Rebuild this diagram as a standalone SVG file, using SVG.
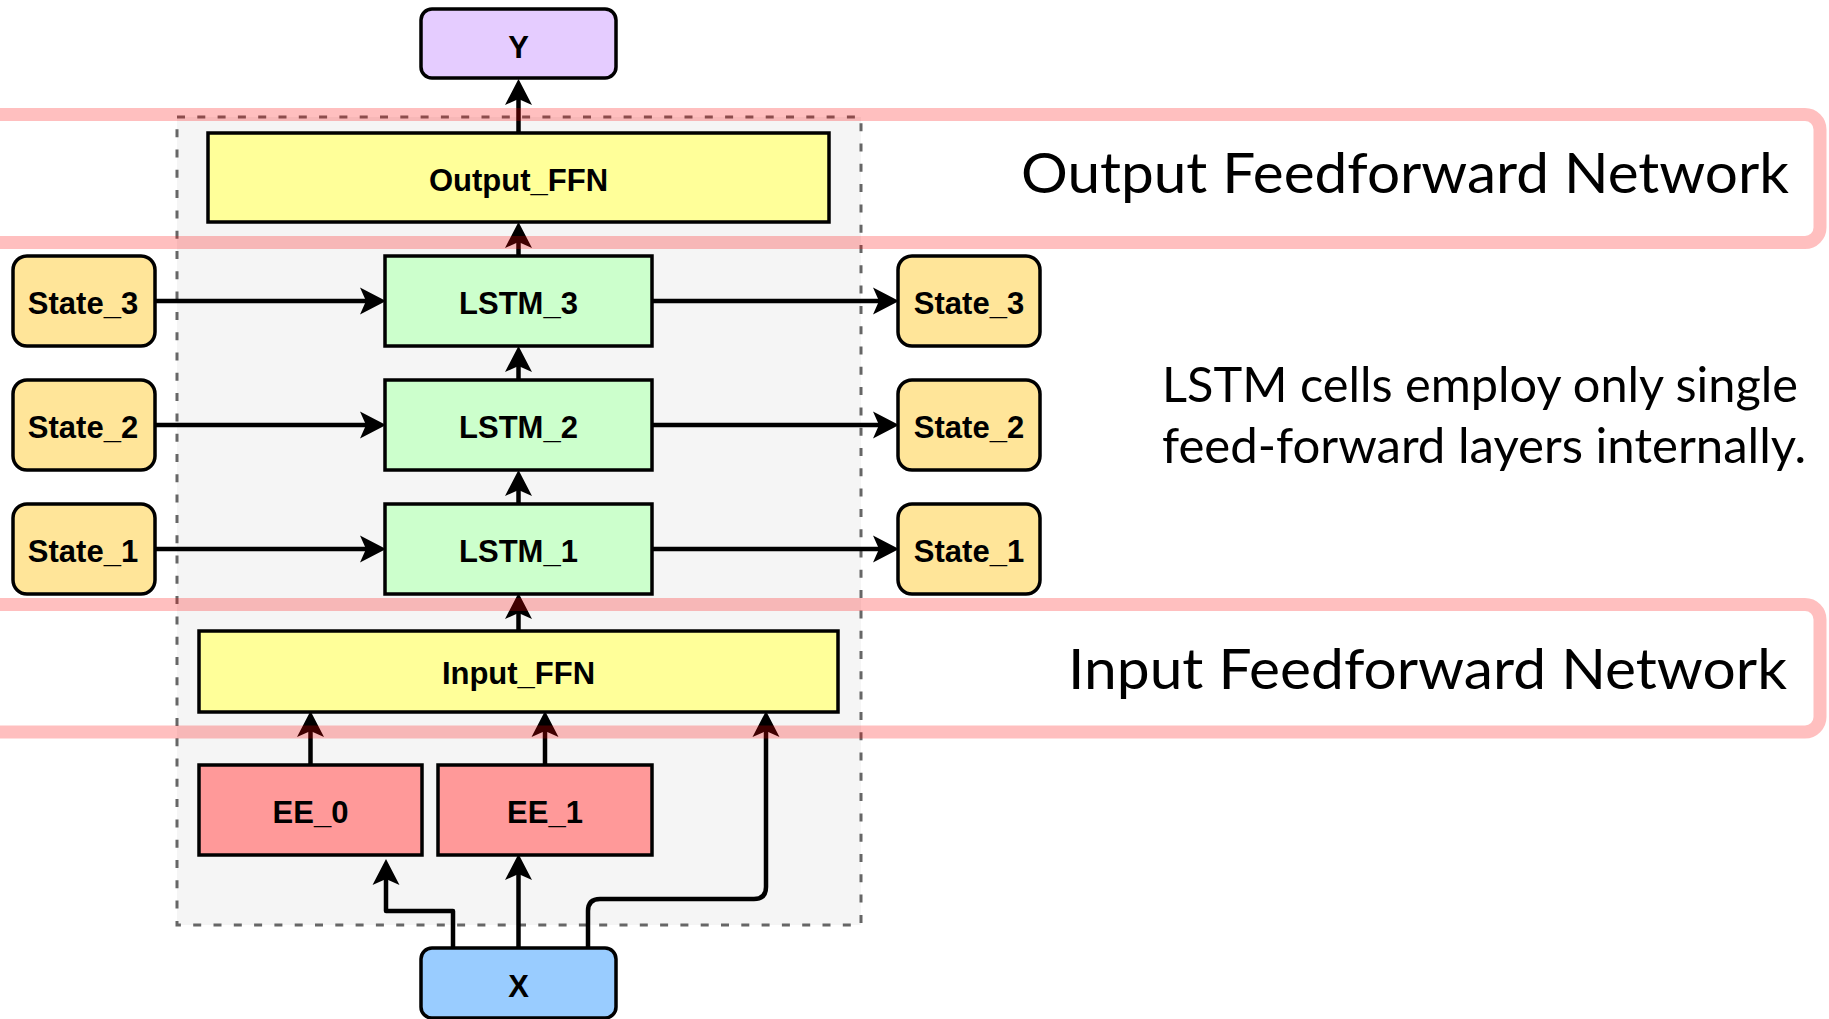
<svg xmlns="http://www.w3.org/2000/svg" width="1829" height="1019" viewBox="0 0 1829 1019">
  <style>
    .node { stroke: #000; stroke-width: 3.5; }
    .lbl { font-family: "Liberation Sans", Arial, sans-serif; font-weight: bold; font-size: 31px; text-anchor: middle; fill: #000; }
    .note { font-family: Lato, "Open Sans", sans-serif; fill: #000; }
    .edge { fill: none; stroke: #000; stroke-width: 4.5; stroke-linejoin: round; }
    .band { fill: none; stroke: #FF0000; stroke-opacity: 0.25; stroke-width: 13; }
    .y { fill: #E5CCFF; } .ffn { fill: #FFFF99; } .lstm { fill: #CCFFCC; }
    .state { fill: #FFE599; } .ee { fill: #FF9999; } .x { fill: #99CCFF; }
  </style>
  <defs>
    <marker id="arrow" markerUnits="userSpaceOnUse" markerWidth="28" markerHeight="30" viewBox="0 -14 28 28" refX="6" refY="0" orient="auto">
      <path d="M0,-13.5 L26,0 L0,13.5 L6,0 Z" fill="#000"/>
    </marker>
  </defs>

  <rect width="1829" height="1019" fill="#fff"/>

  <!-- model container -->
  <g id="container">
    <rect x="177" y="117" width="684" height="808" fill="#F5F5F5" stroke="#666" stroke-width="3" stroke-dasharray="8 12.3"/>
  </g>

  <!-- connectors -->
  <g id="connectors">
    <path class="edge" d="M518.5,133 V99" marker-end="url(#arrow)"/>
    <path class="edge" d="M518.5,256 V242" marker-end="url(#arrow)"/>
    <path class="edge" d="M518.5,380 V366" marker-end="url(#arrow)"/>
    <path class="edge" d="M518.5,504 V490" marker-end="url(#arrow)"/>
    <path class="edge" d="M518.5,631 V613" marker-end="url(#arrow)"/>

    <path class="edge" d="M155,301 H366" marker-end="url(#arrow)"/>
    <path class="edge" d="M155,425 H366" marker-end="url(#arrow)"/>
    <path class="edge" d="M155,549 H366" marker-end="url(#arrow)"/>
    <path class="edge" d="M652,301 H879" marker-end="url(#arrow)"/>
    <path class="edge" d="M652,425 H879" marker-end="url(#arrow)"/>
    <path class="edge" d="M652,549 H879" marker-end="url(#arrow)"/>

    <path class="edge" d="M310.5,765 V731" marker-end="url(#arrow)"/>
    <path class="edge" d="M545,765 V731" marker-end="url(#arrow)"/>

    <path class="edge" d="M453,948 V911 H386 V879" marker-end="url(#arrow)"/>
    <path class="edge" d="M518.5,948 V874" marker-end="url(#arrow)"/>
    <path class="edge" d="M588,948 V911 Q588,899 600,899 H754 Q766,899 766,887 V731" marker-end="url(#arrow)"/>
  </g>

  <!-- nodes -->
  <g id="node-y">
    <rect class="node y" x="421" y="9" width="195" height="69" rx="11"/>
    <text class="lbl" x="518.5" y="58">Y</text>
  </g>
  <g id="node-output-ffn">
    <rect class="node ffn" x="208" y="133" width="621" height="89"/>
    <text class="lbl" x="518.5" y="191">Output_FFN</text>
  </g>
  <g id="node-lstm-3">
    <rect class="node lstm" x="385" y="256" width="267" height="90"/>
    <text class="lbl" x="518.5" y="314">LSTM_3</text>
  </g>
  <g id="node-lstm-2">
    <rect class="node lstm" x="385" y="380" width="267" height="90"/>
    <text class="lbl" x="518.5" y="438">LSTM_2</text>
  </g>
  <g id="node-lstm-1">
    <rect class="node lstm" x="385" y="504" width="267" height="90"/>
    <text class="lbl" x="518.5" y="562">LSTM_1</text>
  </g>
  <g id="node-state-3-in">
    <rect class="node state" x="13" y="256" width="142" height="90" rx="14"/>
    <text class="lbl" x="83" y="314">State_3</text>
  </g>
  <g id="node-state-2-in">
    <rect class="node state" x="13" y="380" width="142" height="90" rx="14"/>
    <text class="lbl" x="83" y="438">State_2</text>
  </g>
  <g id="node-state-1-in">
    <rect class="node state" x="13" y="504" width="142" height="90" rx="14"/>
    <text class="lbl" x="83" y="562">State_1</text>
  </g>
  <g id="node-state-3-out">
    <rect class="node state" x="898" y="256" width="142" height="90" rx="14"/>
    <text class="lbl" x="969" y="314">State_3</text>
  </g>
  <g id="node-state-2-out">
    <rect class="node state" x="898" y="380" width="142" height="90" rx="14"/>
    <text class="lbl" x="969" y="438">State_2</text>
  </g>
  <g id="node-state-1-out">
    <rect class="node state" x="898" y="504" width="142" height="90" rx="14"/>
    <text class="lbl" x="969" y="562">State_1</text>
  </g>
  <g id="node-input-ffn">
    <rect class="node ffn" x="199" y="631" width="639" height="81"/>
    <text class="lbl" x="518.5" y="684">Input_FFN</text>
  </g>
  <g id="node-ee-0">
    <rect class="node ee" x="199" y="765" width="223" height="90"/>
    <text class="lbl" x="310.5" y="823">EE_0</text>
  </g>
  <g id="node-ee-1">
    <rect class="node ee" x="438" y="765" width="214" height="90"/>
    <text class="lbl" x="545" y="823">EE_1</text>
  </g>
  <g id="node-x">
    <rect class="node x" x="421" y="948" width="195" height="70" rx="11"/>
    <text class="lbl" x="518.5" y="997">X</text>
  </g>

  <!-- annotations -->
  <g id="note-lstm">
    <text class="note" x="1162" y="402" font-size="49" textLength="636" lengthAdjust="spacingAndGlyphs">LSTM cells employ only single</text>
    <text class="note" x="1162" y="463" font-size="49" textLength="644" lengthAdjust="spacingAndGlyphs">feed-forward layers internally.</text>
  </g>
  <g id="band-output">
    <rect class="band" x="-40" y="114.5" width="1860" height="128" rx="15"/>
    <text class="note" x="1021" y="193" font-size="57" textLength="768" lengthAdjust="spacingAndGlyphs">Output Feedforward Network</text>
  </g>
  <g id="band-input">
    <rect class="band" x="-40" y="604.5" width="1860" height="127.5" rx="15"/>
    <text class="note" x="1068" y="689" font-size="56" textLength="719" lengthAdjust="spacingAndGlyphs">Input Feedforward Network</text>
  </g>
</svg>
